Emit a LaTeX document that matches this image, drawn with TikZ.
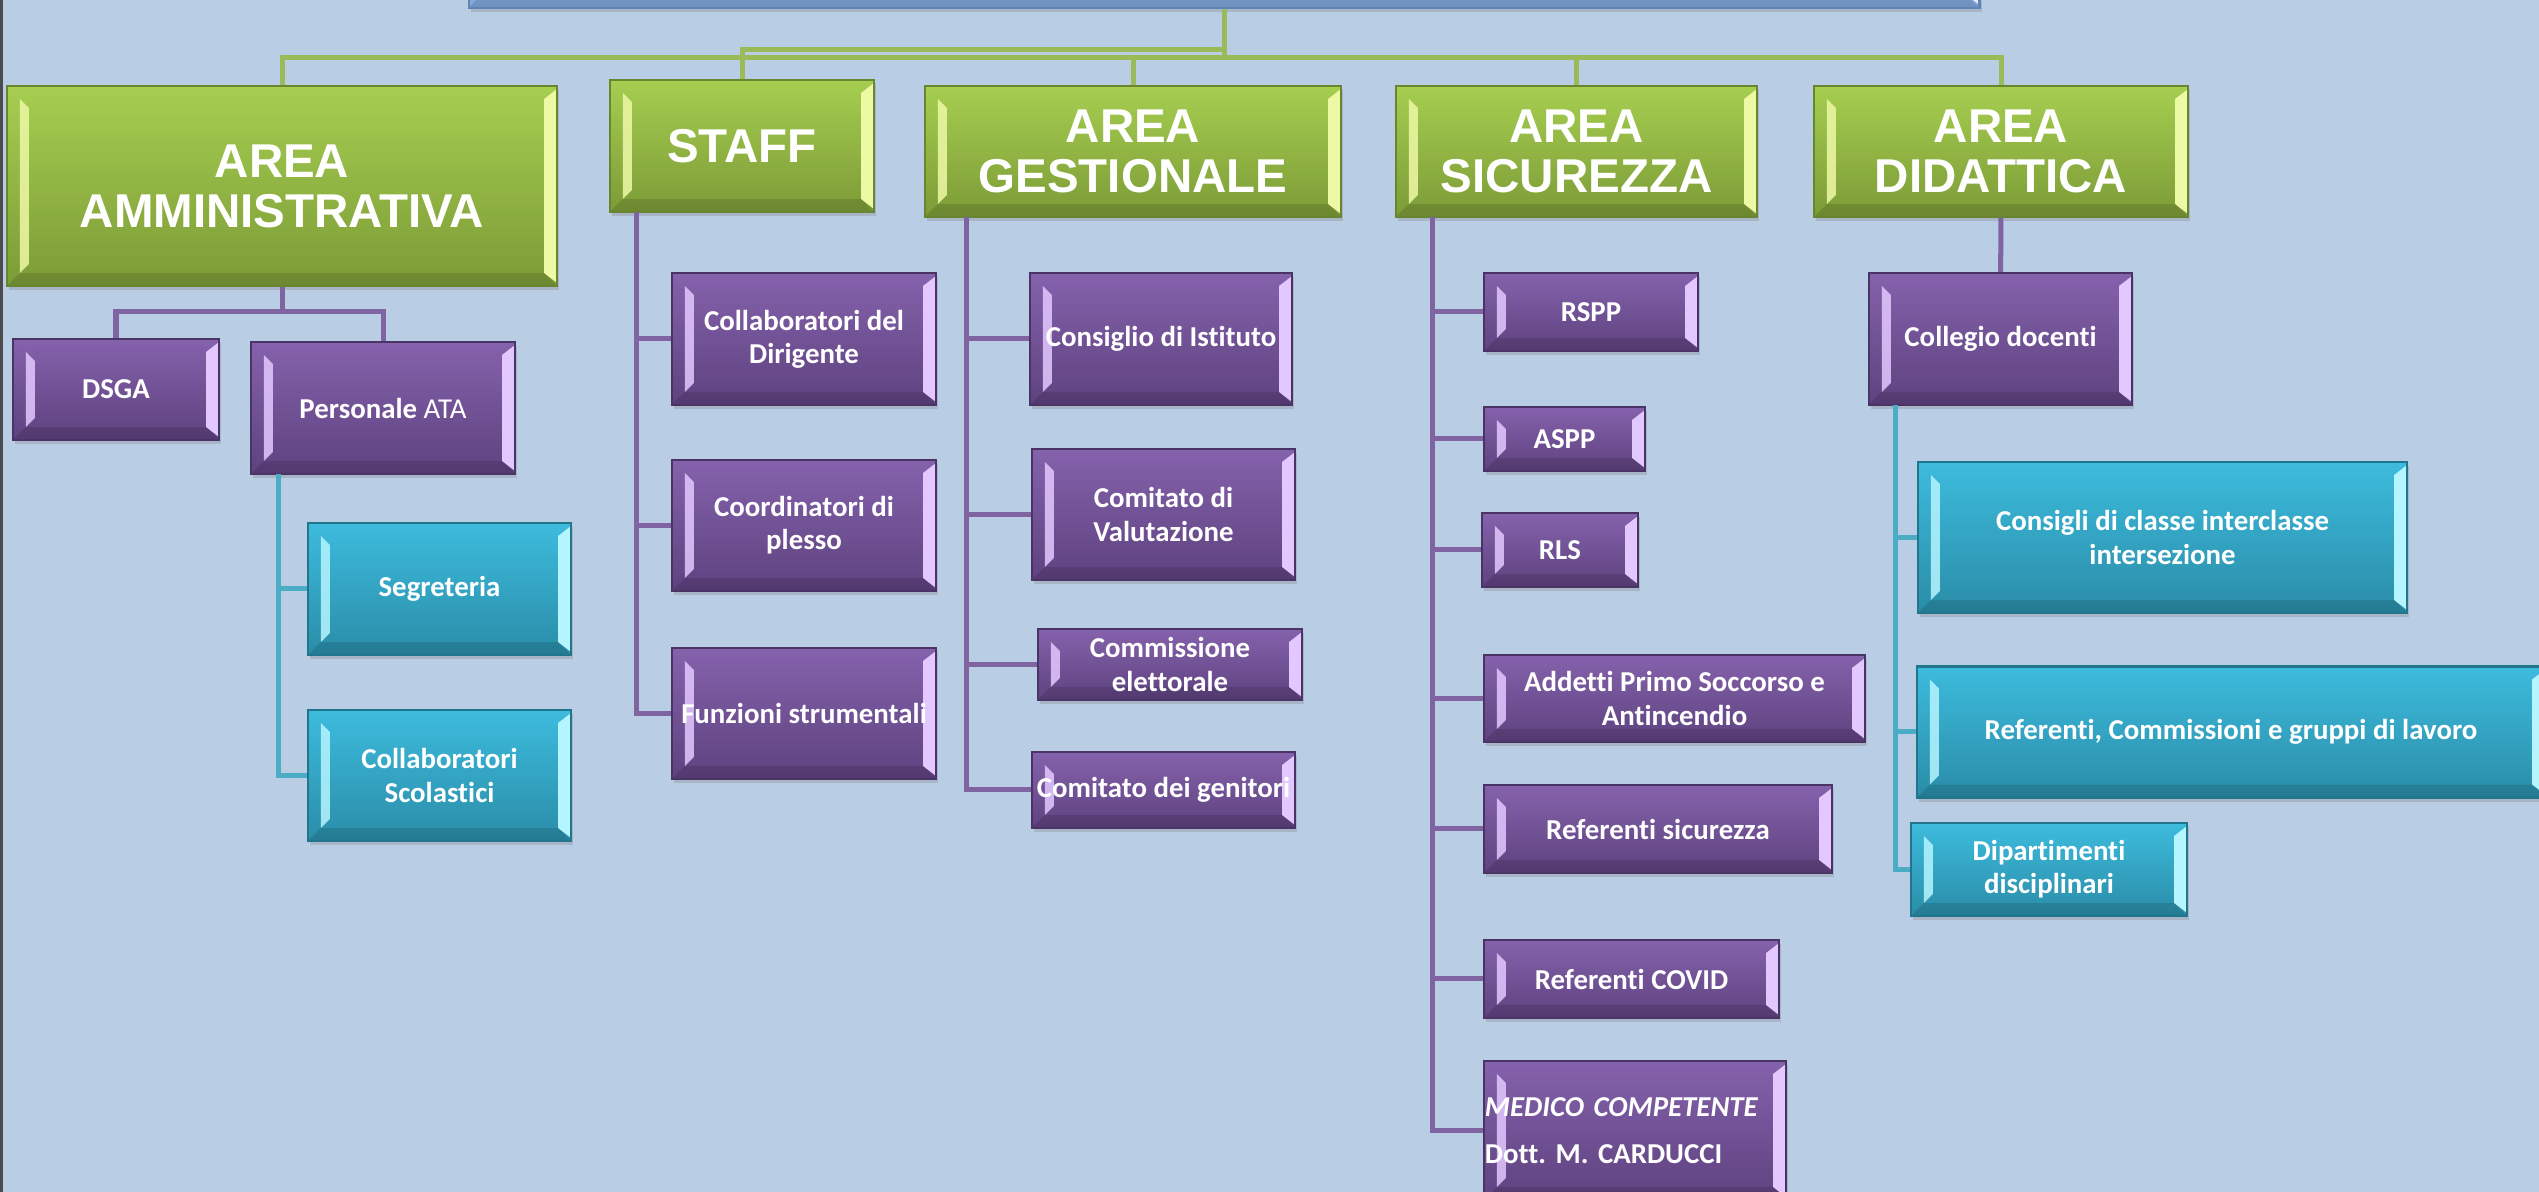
\documentclass[tikz,border=0pt]{standalone}
\usepackage{fontspec}
\newfontfamily\titlefam{Liberation Sans}
\newfontfamily\boxfam{Carlito}[Ligatures=NoCommon]
\usetikzlibrary{shadows}
\frenchspacing
\definecolor{bgblue}{HTML}{B9CDE5}
\definecolor{gtop}{HTML}{A6CE50}
\definecolor{gbot}{HTML}{7C9B37}
\definecolor{gedge}{HTML}{6A8530}
\definecolor{glight}{HTML}{EEF9A6}
\definecolor{ptop}{HTML}{8562AC}
\definecolor{pbot}{HTML}{5E427F}
\definecolor{pedge}{HTML}{4A3465}
\definecolor{plight}{HTML}{E3C8FF}
\definecolor{ctop}{HTML}{3DBBDD}
\definecolor{cbot}{HTML}{2A8DA8}
\definecolor{cedge}{HTML}{21768D}
\definecolor{clight}{HTML}{B5F5FF}
\definecolor{ttop}{HTML}{9DBFE8}
\definecolor{tbot}{HTML}{80A6DA}
\definecolor{tedge}{HTML}{5F84B8}
\definecolor{tlight}{HTML}{DDEBFF}
\definecolor{gconn}{HTML}{9BBB59}
\definecolor{pconn}{HTML}{8064A2}
\definecolor{cconn}{HTML}{4BACC6}
\newcommand{\bevel}[1]{%
  \fill[#1,opacity=.85] ([shift={(13,13)}]path picture bounding box.north west) -- ([shift={(22,22)}]path picture bounding box.north west)
    -- ([shift={(22,-22)}]path picture bounding box.south west) -- ([shift={(13,-13)}]path picture bounding box.south west) -- cycle;
  \fill[#1] ([shift={(-13,13)}]path picture bounding box.north east) -- ([shift={(0,3)}]path picture bounding box.north east)
    -- ([shift={(0,-3)}]path picture bounding box.south east) -- ([shift={(-13,-13)}]path picture bounding box.south east) -- cycle;
  \fill[black,opacity=.12] (path picture bounding box.south west) -- ([shift={(13,-13)}]path picture bounding box.south west)
    -- ([shift={(-13,-13)}]path picture bounding box.south east) -- (path picture bounding box.south east) -- cycle;}
\tikzset{box/.style={draw=#1edge,line width=.6pt,top color=#1top,bottom color=#1bot,text=white,align=center,inner sep=1pt,
    drop shadow={opacity=.3,shadow xshift=.6pt,shadow yshift=-1.2pt},path picture={\bevel{#1light}}}}
\tikzset{area/.style={box=g,font={\titlefam\bfseries\fontsize{13.5}{14.2}\selectfont}}}
\tikzset{unit/.style={box=p,font={\boxfam\bfseries\fontsize{8.2}{9.4}\selectfont}}}
\tikzset{sub/.style={box=c,font={\boxfam\bfseries\fontsize{8.2}{9.4}\selectfont}}}
\tikzset{wh/.style 2 args={minimum width=#1cm,minimum height=#2cm}}
\tikzset{gline/.style={draw=gconn,line width=.05cm}}
\tikzset{pline/.style={draw=pconn,line width=.05cm}}
\tikzset{cline/.style={draw=cconn,line width=.05cm}}

\begin{document}
\begin{tikzpicture}[x=0.01cm,y=-0.01cm]
  \useasboundingbox (0,0) rectangle (2539,1192);
  \clip (0,0) rectangle (2539,1192);
  \fill[bgblue] (0,0) rectangle (2539,1192);
  \draw[line width=.03cm,black!70] (1,0) -- (1,1192);
  % top level
  \node[box=t,wh={15.10}{0.68}] (title) at (1224,-26) {};
  \node[area,wh={5.50}{2.00}] (amm) at (282,186) {AREA\\AMMINISTRATIVA};
  \node[area,wh={2.64}{1.32}] (staff) at (742,146) {STAFF};
  \node[area,wh={4.16}{1.31}] (gest) at (1133,151.5) {AREA\\GESTIONALE};
  \node[area,wh={3.61}{1.31}] (sic) at (1576.5,151.5) {AREA\\SICUREZZA};
  \node[area,wh={3.74}{1.31}] (did) at (2001,151.5) {AREA\\DIDATTICA};
  \coordinate (bus) at (1224,58);
  \coordinate (stbus) at (1224,50);
  \draw[gline] (title) -- (bus);
  \draw[gline] (bus) -| (amm);
  \draw[gline] (stbus) -| (staff);
  \draw[gline] (bus) -| (gest);
  \draw[gline] (bus) -| (sic);
  \draw[gline] (bus) -| (did);
  % area amministrativa
  \node[unit,wh={2.06}{1.01}] (dsga) at (116,389.5) {DSGA};
  \node[unit,wh={2.64}{1.32}] (ata) at (383,408) {Personale {\mdseries ATA}};
  \node[sub,wh={2.63}{1.32}] (segr) at (439.5,589) {Segreteria};
  \node[sub,wh={2.63}{1.31}] (colsc) at (439.5,775.5) {Collaboratori\\Scolastici};
  \coordinate (ammfork) at (282,312);
  \draw[pline] (amm) -- (ammfork);
  \draw[pline] (ammfork) -| (dsga);
  \draw[pline] (ammfork) -| (ata);
  \coordinate (ataL) at (278,474);
  \draw[cline] (ataL) |- (segr);
  \draw[cline] (ataL) |- (colsc);
  % staff
  \node[unit,wh={2.64}{1.32}] (coldir) at (804,339) {Collaboratori del\\Dirigente};
  \node[unit,wh={2.64}{1.31}] (coord) at (804,525.5) {Coordinatori di\\plesso};
  \node[unit,wh={2.64}{1.31}] (funz) at (804,713.5) {Funzioni strumentali};
  \coordinate (staffL) at (636,212);
  \draw[pline] (staffL) |- (coldir);
  \draw[pline] (staffL) |- (coord);
  \draw[pline] (staffL) |- (funz);
  % area gestionale
  \node[unit,wh={2.62}{1.32}] (consist) at (1161,339) {Consiglio di Istituto};
  \node[unit,wh={2.63}{1.31}] (comval) at (1163.5,514.5) {Comitato di\\Valutazione};
  \node[unit,wh={2.64}{0.71}] (commel) at (1170,664.5) {Commissione\\elettorale};
  \node[unit,wh={2.63}{0.76}] (comgen) at (1163.5,790) {Comitato dei genitori};
  \coordinate (gestL) at (966,217);
  \draw[pline] (gestL) |- (consist);
  \draw[pline] (gestL) |- (comval);
  \draw[pline] (gestL) |- (commel);
  \draw[pline] (gestL) |- (comgen);
  % area sicurezza
  \node[unit,wh={2.14}{0.78}] (rspp) at (1591,312) {RSPP};
  \node[unit,wh={1.61}{0.64}] (aspp) at (1564.5,439) {ASPP};
  \node[unit,wh={1.56}{0.74}] (rls) at (1560,550) {RLS};
  \node[unit,wh={3.81}{0.87}] (addetti) at (1674.5,698.5) {Addetti Primo Soccorso e\\Antincendio};
  \node[unit,wh={3.48}{0.88}] (refsic) at (1658,829) {Referenti sicurezza};
  \node[unit,wh={2.95}{0.78}] (refcov) at (1631.5,979) {Referenti COVID};
  \node[unit,wh={3.02}{1.39},align=left,text width=3.0cm,inner xsep=0pt] (medico) at (1635,1130.5)
    {{\itshape MEDICO COMPETENTE}\\[4pt]Dott. M. CARDUCCI};
  \coordinate (sicL) at (1432,217);
  \draw[pline] (sicL) |- (rspp);
  \draw[pline] (sicL) |- (aspp);
  \draw[pline] (sicL) |- (rls);
  \draw[pline] (sicL) |- (addetti);
  \draw[pline] (sicL) |- (refsic);
  \draw[pline] (sicL) |- (refcov);
  \draw[pline] (sicL) |- (medico);
  % area didattica
  \node[unit,wh={2.63}{1.32}] (collegio) at (2000.5,339) {Collegio docenti};
  \node[sub,wh={4.89}{1.51}] (consigli) at (2162.5,537.5) {Consigli di classe interclasse\\intersezione};
  \node[sub,wh={6.28}{1.31}] (refcomm) at (2231,732) {Referenti, Commissioni e gruppi di lavoro};
  \node[sub,wh={2.76}{0.93}] (dip) at (2049,869.5) {Dipartimenti\\disciplinari};
  \draw[pline] (did) -- (collegio);
  \coordinate (colL) at (1895,405);
  \draw[cline] (colL) |- (consigli);
  \draw[cline] (colL) |- (refcomm);
  \draw[cline] (colL) |- (dip);
\end{tikzpicture}
\end{document}
